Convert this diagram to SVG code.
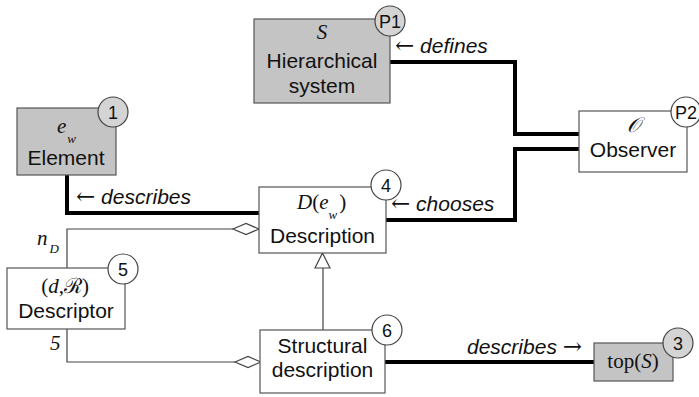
<svg xmlns="http://www.w3.org/2000/svg" width="699" height="397" viewBox="0 0 699 397">
<style>
.box{stroke:#555;stroke-width:1.2}
.g{fill:#c4c4c4}
.w{fill:#fff}
.cg{fill:#d4d4d4;stroke:#444;stroke-width:1.2}
.cw{fill:#fff;stroke:#444;stroke-width:1.2}
.t{font-family:"Liberation Sans",Arial,sans-serif;font-size:21px;fill:#111;text-anchor:middle}
.n{font-family:"Liberation Sans",Arial,sans-serif;font-size:18px;fill:#111;text-anchor:middle}
.m{font-family:"Liberation Serif","Times New Roman",serif;font-size:21px;font-style:italic;fill:#111}
.r{font-style:normal}
.s{font-size:13px}
.lab{font-family:"Liberation Sans",Arial,sans-serif;font-size:21px;font-style:italic;fill:#111}
.ar{font-family:"DejaVu Serif",serif;font-style:normal;font-size:23px}
.thick{fill:none;stroke:#000;stroke-width:4}
.thin{fill:none;stroke:#444;stroke-width:1.2}
</style>
<g id="connectors">
<path class="thick" d="M390,62 H515 V134 H579"/>
<path class="thick" d="M386,220 H515 V149 H579"/>
<path class="thick" d="M67,175 V213 H259"/>
<path class="thick" d="M384,362 H594"/>
<path class="thin" d="M67,268 V229 H233"/>
<path class="thin" d="M233,229 L246,223.5 L259,229 L246,234.5 Z" fill="#fff"/>
<path class="thin" d="M67,329 V362 H235"/>
<path class="thin" d="M235,362 L248,356.5 L261,362 L248,367.5 Z" fill="#fff"/>
<path class="thin" d="M323,330 V268"/>
<path class="thin" d="M322.5,253 L330,268 L315,268 Z" fill="#fff"/>
<text class="lab" x="395" y="53"><tspan class="ar">←</tspan> defines</text>
<text class="lab" x="76" y="204"><tspan class="ar">←</tspan> describes</text>
<text class="lab" x="391" y="211"><tspan class="ar">←</tspan> chooses</text>
<text class="lab" x="467" y="354">describes <tspan class="ar">→</tspan></text>
<text class="m" x="37" y="245">n<tspan class="s" dx="2" dy="8">D</tspan></text>
<text class="m" x="50" y="350">5</text>
</g>
<g id="hierarchical-system">
<rect class="box g" x="254" y="19" width="136" height="84"/>
<circle class="cg" cx="390" cy="21" r="15"/>
<text class="n" x="390" y="27.5">P1</text>
<text class="m" x="322" y="39" text-anchor="middle">S</text>
<text class="t" x="322" y="68">Hierarchical</text>
<text class="t" x="322" y="93">system</text>
</g>
<g id="observer">
<rect class="box w" x="579" y="111" width="108" height="61"/>
<circle class="cw" cx="686" cy="112" r="15"/>
<text class="n" x="686" y="118.5">P2</text>
<text class="m" x="633" y="132" text-anchor="middle">𝒪</text>
<text class="t" x="633" y="157">Observer</text>
</g>
<g id="element">
<rect class="box g" x="17" y="108" width="99" height="67"/>
<circle class="cg" cx="113" cy="112" r="15"/>
<text class="n" x="113" y="118.5">1</text>
<text class="m" x="57" y="133">e<tspan class="s" dx="1" dy="10">w</tspan></text>
<text class="t" x="66" y="165">Element</text>
</g>
<g id="description">
<rect class="box w" x="259" y="187" width="127" height="66"/>
<circle class="cw" cx="386" cy="185" r="15"/>
<text class="n" x="386" y="191.5">4</text>
<text class="m" x="297" y="209">D<tspan class="r">(</tspan>e<tspan class="s" dy="10">w</tspan><tspan class="r" dx="2" dy="-10">)</tspan></text>
<text class="t" x="322.5" y="243">Description</text>
</g>
<g id="descriptor">
<rect class="box w" x="7" y="268" width="118" height="61"/>
<circle class="cw" cx="123" cy="269" r="15"/>
<text class="n" x="123" y="275.5">5</text>
<text class="m" x="65" y="293" text-anchor="middle"><tspan class="r">(</tspan>d<tspan class="r">,</tspan><tspan font-family="DejaVu Serif,serif" font-style="normal">ℛ</tspan><tspan class="r">)</tspan></text>
<text class="t" x="66" y="318">Descriptor</text>
</g>
<g id="structural-description">
<rect class="box w" x="260" y="330" width="125" height="63"/>
<circle class="cw" cx="387" cy="330" r="15"/>
<text class="n" x="387" y="336.5">6</text>
<text class="t" x="322.5" y="353">Structural</text>
<text class="t" x="322.5" y="377">description</text>
</g>
<g id="top-s">
<rect class="box g" x="594" y="343" width="79" height="38"/>
<circle class="cg" cx="678" cy="343" r="15"/>
<text class="n" x="678" y="349.5">3</text>
<text class="m r" x="633" y="368" text-anchor="middle">top(<tspan font-style="italic">S</tspan>)</text>
</g>
</svg>
